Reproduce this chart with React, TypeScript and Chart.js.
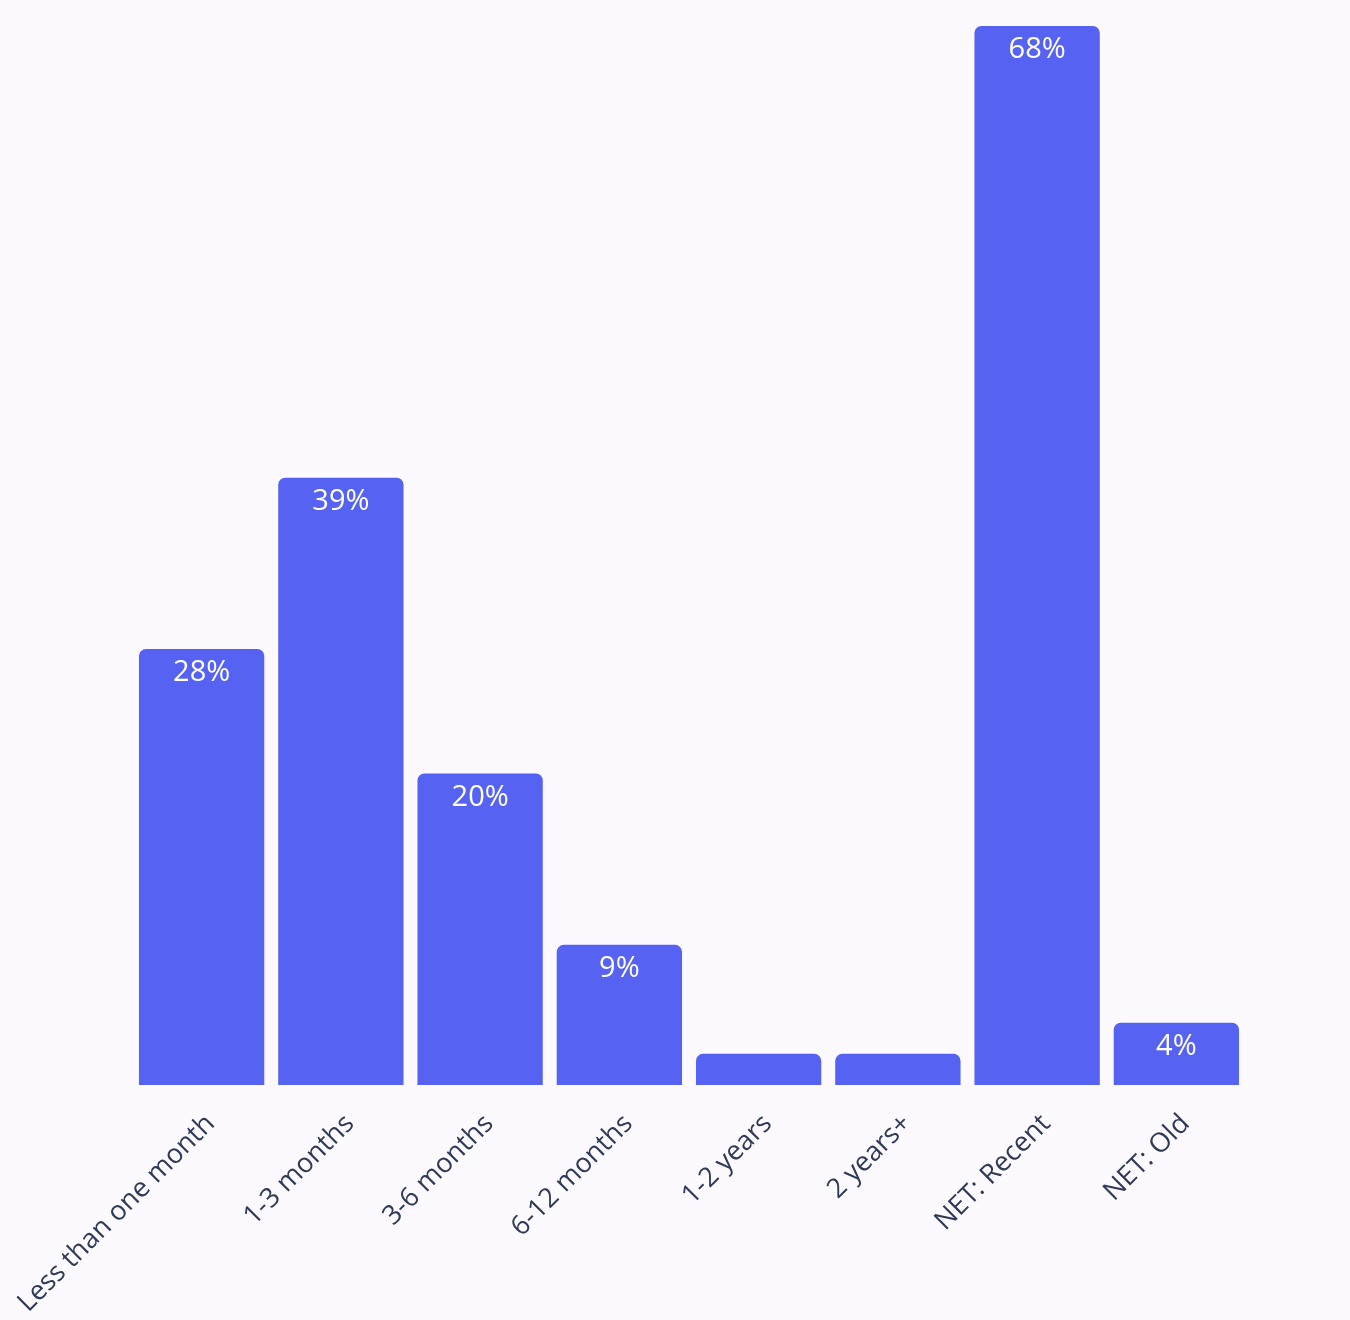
import React, { useEffect, useRef } from "react";
import { Chart, registerables } from "chart.js";

Chart.register(...registerables);

const categories = [
  "Less than one month",
  "1-3 months",
  "3-6 months",
  "6-12 months",
  "1-2 years",
  "2 years+",
  "NET: Recent",
  "NET: Old",
];
const values = [28, 39, 20, 9, 2, 2, 68, 4];
const valueLabels = ["28%", "39%", "20%", "9%", "", "", "68%", "4%"];

const BAR_COLOR = "#5562F2";
const TEXT_COLOR = "#2E3A58";
const BG = "#FCFAFF";
const FONT = "'Open Sans', Lato, sans-serif";

const insideLabels = {
  id: "insideLabels",
  afterDatasetsDraw(chart: any) {
    const ctx = chart.ctx;
    const meta = chart.getDatasetMeta(0);
    ctx.save();
    ctx.fillStyle = "#FFFFFF";
    ctx.font = `400 29px ${FONT}`;
    ctx.textAlign = "center";
    ctx.textBaseline = "middle";
    meta.data.forEach((bar: any, i: number) => {
      const t = valueLabels[i];
      if (!t) return;
      ctx.fillText(t, bar.x, bar.y + 24);
    });
    ctx.restore();
  },
};

export default function App() {
  const ref = useRef<HTMLCanvasElement | null>(null);
  useEffect(() => {
    document.body.style.background = BG;
    const chart = new Chart(ref.current as HTMLCanvasElement, {
      type: "bar",
      data: {
        labels: categories,
        datasets: [
          {
            data: values,
            backgroundColor: BAR_COLOR,
            borderRadius: { topLeft: 7, topRight: 7, bottomLeft: 0, bottomRight: 0 },
            borderSkipped: false,
            barPercentage: 0.9,
            categoryPercentage: 1,
          },
        ],
      },
      options: {
        animation: false,
        responsive: false,
        maintainAspectRatio: false,
        layout: { padding: { left: 124, right: 96, top: 18, bottom: 0 } },
        plugins: { legend: { display: false }, tooltip: { enabled: false } },
        scales: {
          x: {
            grid: { display: false },
            border: { display: false },
            ticks: {
              color: TEXT_COLOR,
              font: { family: FONT, size: 27 },
              maxRotation: 45,
              minRotation: 45,
              autoSkip: false,
              padding: 15,
              labelOffset: 9,
            },
            afterFit(scale: any) {
              scale.height = 227;
              scale.paddingLeft = 0;
              scale.paddingRight = 0;
            },
          },
          y: { display: false, min: 0, max: 68 },
        },
      },
      plugins: [insideLabels],
    });
    return () => chart.destroy();
  }, []);
  return (
    <div style={{ background: BG }}>
      <canvas ref={ref} width={1334} height={1304} style={{ display: "block" }} />
    </div>
  );
}
